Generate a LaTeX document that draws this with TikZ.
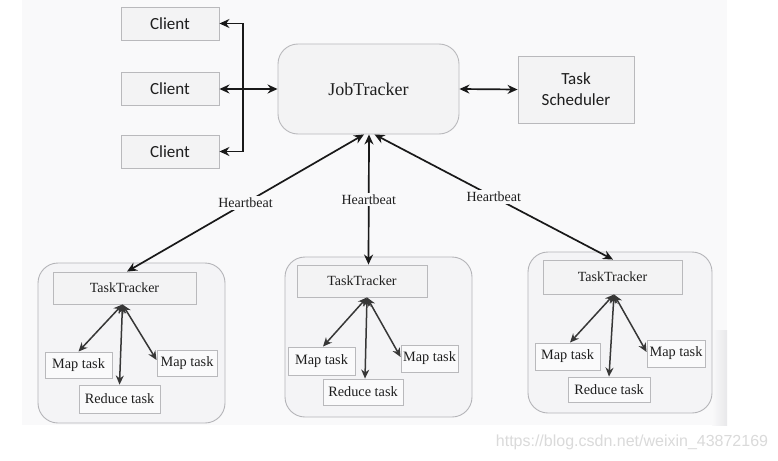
\documentclass[tikz,border=0pt]{standalone}
\usepackage{fontspec}
\setmainfont{Liberation Serif}
\newfontfamily\calib{Carlito}
\newfontfamily\wmfont{Liberation Sans}
\usetikzlibrary{arrows.meta,calc}
\definecolor{slidebg}{RGB}{249,249,250}
\definecolor{boxfill}{RGB}{243,243,244}
\definecolor{boxline}{RGB}{185,185,188}
\definecolor{contfill}{RGB}{244,244,246}
\definecolor{contline}{RGB}{180,180,184}
\definecolor{txt}{RGB}{30,30,30}
\definecolor{arrcol}{RGB}{25,25,25}
\definecolor{subarr}{RGB}{55,55,55}
\definecolor{wm}{RGB}{218,218,218}
\tikzset{
  sbox/.style={draw=boxline, line width=0.9pt, fill=boxfill, text=txt, inner sep=0pt, align=center},
  clientbox/.style={sbox, minimum width=98pt, minimum height=33pt, font=\calib\fontsize{17}{19}\selectfont},
  jtbox/.style={sbox, rounded corners=20pt, minimum width=181pt, minimum height=90pt, font=\fontsize{18}{20}\selectfont},
  tsbox/.style={sbox, minimum width=116pt, minimum height=67pt, font=\calib\fontsize{17}{21}\selectfont},
  contbox/.style={draw=contline, line width=0.9pt, fill=contfill, rounded corners=20pt, inner sep=0pt},
  ttbox/.style={sbox, minimum height=32pt, font=\fontsize{14}{16}\selectfont},
  taskbox/.style={sbox, fill=white!60!boxfill, minimum height=26pt, font=\fontsize{14.3}{16}\selectfont},
  dbl/.style={{Stealth[length=10pt,width=9pt]}-{Stealth[length=10pt,width=9pt]}, draw=arrcol, line width=1.7pt},
  subdbl/.style={{Stealth[length=9pt,width=8pt]}-{Stealth[length=9pt,width=8pt]}, draw=subarr, line width=1.5pt},
  hblabel/.style={fill=slidebg, inner sep=2pt, text=txt, font=\fontsize{14}{16}\selectfont}
}
\begin{document}
\begin{tikzpicture}[x=1pt,y=-1pt]
\useasboundingbox (0,0) rectangle (778,460);
\fill[white] (0,0) rectangle (778,460);
\fill[slidebg] (22,0) rectangle (727,425);
\shade[left color=slidebg, right color={rgb,255:red,232;green,232;blue,234}] (712,330) rectangle (727,425);

% Clients
\node[clientbox] (c1) at (170,23.5) {Client};
\node[clientbox] (c2) at (170,89) {Client};
\node[clientbox] (c3) at (170,151.5) {Client};
\coordinate (bus) at (243,0);

% JobTracker and scheduler
\node[jtbox] (jt) at (368.5,89) {JobTracker};
\node[tsbox] (ts) at (576,89.5) {Task\\Scheduler};

\draw[dbl] (c1.east) -- (c1.east -| bus) -- (c3.east -| bus) -- (c3.east);
\draw[dbl] (c2.east) -- (jt.west);
\draw[dbl] (jt.east) -- (ts.west);

% Containers
\node[contbox, minimum width=187pt, minimum height=160pt] (kL) at (131.5,343) {};
\node[contbox, minimum width=187pt, minimum height=160pt] (kM) at (378.5,337) {};
\node[contbox, minimum width=184pt, minimum height=161pt] (kR) at (620,332.5) {};

% TaskTrackers
\node[ttbox, minimum width=143pt] (ttL) at (124.5,288) {TaskTracker};
\node[ttbox, minimum width=130pt] (ttM) at (362,281) {TaskTracker};
\node[ttbox, minimum width=139pt, minimum height=34pt] (ttR) at (612.5,277) {TaskTracker};

% Heartbeats
\draw[dbl] ([xshift=-4.5pt]jt.south) -- node[hblabel]{Heartbeat} ([xshift=2.5pt]ttL.north);
\draw[dbl] ([xshift=0.5pt]jt.south) -- node[hblabel]{Heartbeat} ([xshift=6.5pt]ttM.north);
\draw[dbl] ([xshift=6pt]jt.south) -- node[hblabel]{Heartbeat} ([xshift=0.5pt]ttR.north);

% Left tasks
\node[taskbox, minimum width=67pt] (mL1) at (78.5,365) {Map task};
\node[taskbox, minimum width=60pt] (mL2) at (187,363) {Map task};
\node[taskbox, minimum width=81pt, minimum height=28pt] (rL) at (119.5,399) {Reduce task};
\draw[subdbl] ([xshift=-2pt]ttL.south) -- (mL1.north);
\draw[subdbl] ([xshift=-2pt]ttL.south) -- (rL.north);
\draw[subdbl] ([xshift=-2pt]ttL.south) -- ([yshift=3pt]mL2.west);

% Middle tasks
\node[taskbox, minimum width=67pt, minimum height=28pt] (mM1) at (321.5,361) {Map task};
\node[taskbox, minimum width=57pt, minimum height=27pt] (mM2) at (429.5,358.5) {Map task};
\node[taskbox, minimum width=80pt] (rM) at (363,392) {Reduce task};
\draw[subdbl] ([xshift=5pt]ttM.south) -- ([xshift=1.5pt]mM1.north);
\draw[subdbl] ([xshift=5pt]ttM.south) -- ([xshift=2pt]rM.north);
\draw[subdbl] ([xshift=5pt]ttM.south) -- ([yshift=1.5pt]mM2.west);

% Right tasks
\node[taskbox, minimum width=65pt, minimum height=27pt] (mR1) at (567.5,356.5) {Map task};
\node[taskbox, minimum width=58pt, minimum height=27pt] (mR2) at (676,353.5) {Map task};
\node[taskbox, minimum width=82pt, minimum height=25pt] (rR) at (609,389.5) {Reduce task};
\draw[subdbl] ([xshift=1.5pt]ttR.south) -- ([xshift=2.5pt]mR1.north);
\draw[subdbl] ([xshift=1.5pt]ttR.south) -- (rR.north);
\draw[subdbl] ([xshift=1.5pt]ttR.south) -- ([yshift=1.5pt]mR2.west);

% Watermark
\node[text=wm, font=\wmfont\fontsize{16}{18}\selectfont, inner sep=0pt] (wmk) at (632,442) {https://blog.csdn.net/weixin\_43872169};
\end{tikzpicture}
\end{document}
